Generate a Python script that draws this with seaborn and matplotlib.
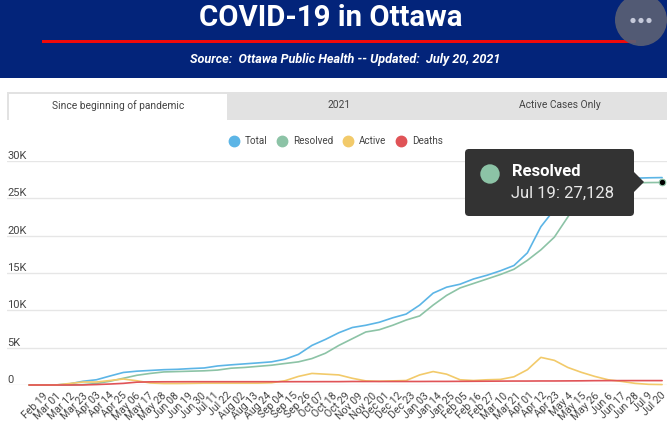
import matplotlib
matplotlib.use("Agg")
import matplotlib.pyplot as plt
from matplotlib.lines import Line2D
from matplotlib.patches import Circle, FancyBboxPatch, Polygon, Rectangle
from matplotlib.transforms import ScaledTranslation
import numpy as np
import pandas as pd
import seaborn as sns

tick_labels = ["Feb 19", "Mar 01", "Mar 12", "Mar 23", "Apr 03", "Apr 14", "Apr 25", "May 06",
               "May 17", "May 28", "Jun 08", "Jun 19", "Jun 30", "Jul 11", "Jul 22", "Aug 02",
               "Aug 13", "Aug 24", "Sep 04", "Sep 15", "Sep 26", "Oct 07", "Oct 18", "Oct 29",
               "Nov 09", "Nov 20", "Dec 01", "Dec 12", "Dec 23", "Jan 03", "Jan 14", "Jan 25",
               "Feb 05", "Feb 16", "Feb 27", "Mar 10", "Mar 21", "Apr 01", "Apr 12", "Apr 23",
               "May 4", "May 15", "May 26", "Jun 6", "Jun 17", "Jun 28", "Jul 9", "Jul 20"]

total = [0, 0, 5, 150, 500, 700, 1200, 1680, 1850, 1950, 2050, 2100, 2200, 2280, 2550, 2700,
         2830, 2960, 3100, 3450, 4100, 5300, 6100, 7000, 7700, 8000, 8400, 9000, 9500, 10700,
         12300, 13100, 13500, 14200, 14700, 15300, 16000, 17700, 21200, 23500, 26000, 27000,
         27400, 27550, 27620, 27700, 27750, 27780]
resolved = [0, 0, 0, 0, 50, 200, 500, 900, 1300, 1550, 1750, 1800, 1850, 1900, 2000, 2250,
            2350, 2500, 2650, 2880, 3100, 3540, 4250, 5300, 6200, 7100, 7400, 8000, 8700, 9250,
            10700, 12000, 13000, 13600, 14200, 14800, 15500, 16700, 18100, 19800, 22500, 25000,
            26200, 26800, 27000, 27080, 27110, 27128]
active = [0, 0, 5, 200, 400, 400, 600, 800, 570, 270, 200, 200, 220, 250, 250, 250,
          250, 250, 300, 570, 1150, 1550, 1450, 1350, 900, 550, 500, 550, 600, 1350,
          1800, 1450, 700, 600, 700, 750, 1100, 2050, 3700, 3300, 2350, 1700, 1150, 700,
          480, 220, 90, 60]
deaths = [0, 0, 0, 0, 10, 60, 130, 220, 380, 420, 430, 435, 440, 440, 440, 440,
          440, 440, 440, 440, 445, 445, 450, 450, 470, 470, 470, 470, 470, 470,
          480, 480, 490, 500, 510, 520, 530, 530, 540, 540, 550, 560, 580, 585,
          588, 590, 590, 590]
series_names = ["Total", "Resolved", "Active", "Deaths"]
y_ticks = [0, 5000, 10000, 15000, 20000, 25000, 30000]
y_labels = ["0", "5K", "10K", "15K", "20K", "25K", "30K"]

colors = ["#5cb5e6", "#8cc3a6", "#f2ca6a", "#e05357"]
navy = "#03247a"
W, H = 667, 424

days = np.arange(len(tick_labels)) * 11
df = pd.DataFrame({"day": days, "Total": total, "Resolved": resolved, "Active": active, "Deaths": deaths})
long_df = df.melt(id_vars="day", var_name="series", value_name="count")

sns.set_style("white")
plt.rcParams["font.family"] = ["Roboto", "DejaVu Sans"]

fig = plt.figure(figsize=(W / 100, H / 100), dpi=100)

# chart axes, placed by pixels
ax = fig.add_axes([7 / W, 1 - 385 / H, 660 / W, 224 / H])
sns.lineplot(data=long_df, x="day", y="count", hue="series", hue_order=series_names,
             palette=colors, linewidth=1.2, legend=False, ax=ax, clip_on=False)
ax.scatter(days[-1], resolved[-1], s=22, color="black", edgecolor=colors[1], linewidth=0.8, zorder=5, clip_on=False)
ax.set_xlim(-18, 521)
ax.set_ylim(0, 30000)
ax.set_xlabel("")
ax.set_ylabel("")
ax.set_xticks(days)
ax.set_xticklabels(tick_labels, rotation=45, ha="right", va="top", rotation_mode="anchor", fontsize=7.6, color="#444444")
ax.set_yticks(y_ticks)
ax.set_yticklabels(y_labels, fontsize=8, color="#444444", ha="left", va="bottom")
ax.tick_params(axis="y", length=0, pad=0)
ax.tick_params(axis="x", length=0, pad=4)
ax.grid(axis="y", color="#e6e6e6", linewidth=1)
ax.grid(axis="x", visible=False)
ax.set_axisbelow(True)
sns.despine(ax=ax, left=True, top=True, right=True, bottom=True)
ax.patch.set_alpha(0)

# labels run a little tighter than the ticks, as in the source chart
n = len(tick_labels)
for i, lab in enumerate(ax.get_xticklabels()):
    shift = 14 - 16 * i / (n - 1)
    lab.set_transform(lab.get_transform() + ScaledTranslation(shift / 100, 0, fig.dpi_scale_trans))

handles = [Line2D([], [], marker="o", linestyle="", markersize=7.5, color=c, label=n_)
           for c, n_ in zip(colors, series_names)]
fig.legend(handles=handles, loc="center", bbox_to_anchor=(336 / W, 1 - 141 / H), ncol=4, frameon=False,
           fontsize=7.1, handlelength=1, handletextpad=0.6, columnspacing=1.0, labelcolor="#444444")

# header, tabs and tooltip in pixel coordinates
ov = fig.add_axes([0, 0, 1, 1], zorder=10)
ov.set_xlim(0, W)
ov.set_ylim(H, 0)
ov.axis("off")
ov.patch.set_alpha(0)

ov.add_patch(Rectangle((0, 0), W, 78, color=navy, linewidth=0))
ov.add_patch(Rectangle((42, 39.5), 594, 3, color="#f00a0a", linewidth=0))
ov.add_patch(Circle((641, 20), 26, color="#5a5f74", alpha=0.92, linewidth=0))
for dx in [-8, 0, 8]:
    ov.add_patch(Circle((641 + dx, 20.5), 2.6, color="#c5c9da", linewidth=0))
ov.text(331, 18, "COVID-19 in Ottawa", color="white", fontsize=21.2, fontweight="bold", ha="center", va="center")
ov.text(345, 59, "Source:  Ottawa Public Health -- Updated:  July 20, 2021", color="white", fontsize=9.1,
        fontweight="bold", fontstyle="italic", ha="center", va="center")

ov.add_patch(Rectangle((7, 92), W - 7, 28, color="#e2e2e2", linewidth=0))
ov.add_patch(Rectangle((9, 94), 218, 27, color="white", linewidth=0))
ov.text(118, 105.5, "Since beginning of pandemic", color="#444444", fontsize=7.35, ha="center", va="center")
ov.text(339, 105.5, "2021", color="#444444", fontsize=7.35, ha="center", va="center")
ov.text(560, 105.5, "Active Cases Only", color="#444444", fontsize=7.35, ha="center", va="center")

tip = "#333333"
ov.add_patch(FancyBboxPatch((468, 152), 163, 61, boxstyle="round,pad=3,rounding_size=4", color=tip, linewidth=0))
ov.add_patch(Polygon([(633, 171), (644, 182), (633, 193)], color=tip, linewidth=0))
ov.add_patch(Circle((490, 174), 9.7, color=colors[1], linewidth=0))
ov.text(512, 172, "Resolved", color="white", fontsize=12, fontweight="bold", ha="left", va="center")
ov.text(511, 193, "Jul 19: 27,128", color="#e8e8e8", fontsize=12, ha="left", va="center")

plt.savefig("out.png", dpi=100)
